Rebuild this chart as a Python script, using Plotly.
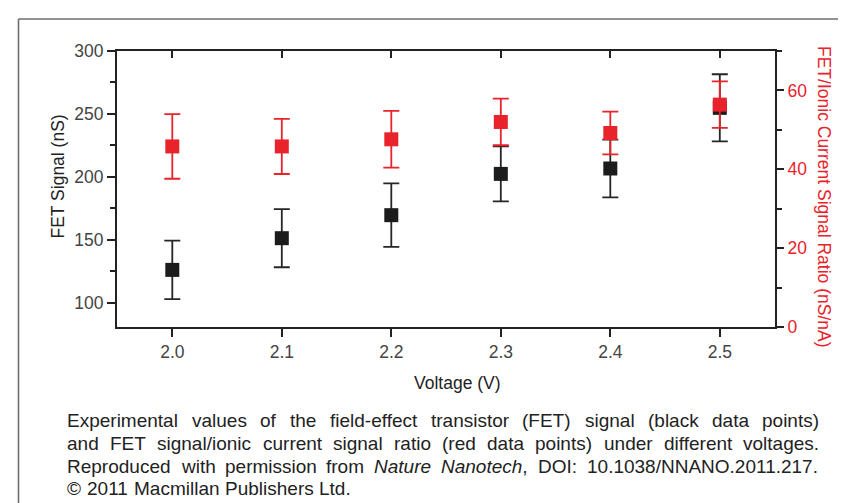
import plotly.graph_objects as go

# ---- data ----
voltage = [2.0, 2.1, 2.2, 2.3, 2.4, 2.5]
voltage_labels = ["2.0", "2.1", "2.2", "2.3", "2.4", "2.5"]
fet_signal = [126.0, 151.2, 169.5, 202.3, 206.6, 254.8]
fet_err = [23.3, 23.1, 25.2, 21.9, 23.0, 26.7]
ratio = [45.8, 45.8, 47.6, 52.0, 49.2, 56.4]
ratio_err = [8.2, 7.0, 7.2, 5.9, 5.4, 5.9]
left_ticks = [100, 150, 200, 250, 300]
right_ticks = [0, 20, 40, 60]

caption_lines = [
    "Experimental values of the field-effect transistor (FET) signal (black data points)",
    "and FET signal/ionic current signal ratio (red data points) under different voltages.",
    "Reproduced with permission from <i>Nature</i> <i>Nanotech</i>, DOI: 10.1038/NNANO.2011.217.",
    "\u00a9 2011 Macmillan Publishers Ltd.",
]

# ---- style ----
W, H = 846, 503
ML, MR, MT, MB = 109, 79, 43, 184
PW, PH = W - ML - MR, H - MT - MB
RED = "#e8232b"
BLK = "#1c1c1c"
AX = "#222222"
TICKC = "#444444"
FONT = "Liberation Sans, Arial, sans-serif"


def px(x):
    return (x - ML) / PW


def py(y):
    return (H - MB - y) / PH


fig = go.Figure()
fig.add_trace(go.Scatter(
    x=voltage, y=fet_signal, mode="markers",
    marker=dict(symbol="square", size=14, color=BLK, line=dict(width=0)),
    error_y=dict(type="data", array=fet_err, visible=True, color="#262626",
                 thickness=1.8, width=8),
    showlegend=False, xaxis="x", yaxis="y"))
fig.add_trace(go.Scatter(
    x=voltage, y=ratio, mode="markers",
    marker=dict(symbol="square", size=14, color=RED, line=dict(width=0)),
    error_y=dict(type="data", array=ratio_err, visible=True, color=RED,
                 thickness=1.8, width=8),
    showlegend=False, xaxis="x", yaxis="y2"))
# invisible helper trace so that the top (mirror) axis is drawn
fig.add_trace(go.Scatter(x=voltage, y=fet_signal, mode="markers",
                         marker=dict(opacity=0), hoverinfo="skip",
                         showlegend=False, xaxis="x2", yaxis="y"))

xr = [1.9495, 2.5504]
fig.update_layout(
    width=W, height=H,
    margin=dict(l=ML, r=MR, t=MT, b=MB, pad=0),
    paper_bgcolor="white", plot_bgcolor="white",
    font=dict(family=FONT, color=AX),
    xaxis=dict(range=xr, tickvals=voltage, ticktext=voltage_labels,
               ticks="outside", ticklen=8, tickwidth=1.6, tickcolor=AX,
               showline=True, linewidth=2, linecolor=AX, showgrid=False,
               zeroline=False, tickfont=dict(size=17.5, color=TICKC),
               anchor="y"),
    xaxis2=dict(range=xr, overlaying="x", side="top", tickvals=voltage,
                ticks="inside", ticklen=7, tickwidth=1.6, tickcolor=AX,
                showticklabels=False, showline=True, linewidth=2,
                linecolor=AX, showgrid=False, zeroline=False, anchor="y"),
    yaxis=dict(range=[80.6, 300], tickvals=left_ticks, ticks="outside",
               ticklen=8, tickwidth=1.6, tickcolor=AX,
               minor=dict(dtick=25, tick0=0, ticks="outside", ticklen=5,
                          tickwidth=1.6, tickcolor=AX, showgrid=False),
               showline=True, linewidth=2, linecolor=AX, showgrid=False,
               zeroline=False, tickfont=dict(size=17.5, color=TICKC)),
    yaxis2=dict(range=[0, 70], overlaying="y", side="right",
                tickvals=right_ticks, ticks="outside", ticklen=7,
                tickwidth=1.6, tickcolor=AX,
                minor=dict(dtick=10, tick0=0, ticks="outside", ticklen=5,
                           tickwidth=1.6, tickcolor=AX, showgrid=False),
                showline=True, linewidth=2, linecolor=AX, showgrid=False,
                zeroline=False, tickfont=dict(size=17.5, color=RED)),
)

ann = []
ann.append(dict(text="FET Signal (nS)", textangle=-90, x=px(49), y=py(168.5),
                xref="paper", yref="paper", showarrow=False,
                xanchor="center", yanchor="middle",
                font=dict(size=17.5, color=AX, family=FONT)))
ann.append(dict(text="FET/Ionic Current Signal Ratio (nS/nA)", textangle=90,
                x=px(816), y=py(189), xref="paper", yref="paper",
                showarrow=False, xanchor="center", yanchor="middle",
                font=dict(size=17.5, color=RED, family=FONT)))
ann.append(dict(text="Voltage (V)", x=px(449), y=py(375), xref="paper",
                yref="paper", showarrow=False, xanchor="center",
                yanchor="middle", font=dict(size=17.5, color=AX, family=FONT)))

# ---- caption, justified word by word (Arial/Liberation Sans metrics) ----
widths = {' ': 278, '(': 333, ')': 333, ',': 278, '-': 333, '.': 278,
          '/': 278, ':': 278, '\u00a9': 737}
for d in "0123456789":
    widths[d] = 556
widths.update(dict(A=667, B=667, C=722, D=722, E=667, F=611, G=778, H=722,
                   I=278, J=500, K=667, L=556, M=833, N=722, O=778, P=667,
                   Q=778, R=722, S=667, T=611, U=722, V=667, W=944, X=667,
                   Y=667, Z=611))
widths.update(dict(a=556, b=556, c=500, d=556, e=556, f=278, g=556, h=556,
                   i=222, j=222, k=500, l=222, m=833, n=556, o=556, p=556,
                   q=556, r=333, s=500, t=278, u=556, v=500, w=722, x=500,
                   y=500, z=500))


def tw(s, size):
    s = s.replace("<i>", "").replace("</i>", "")
    return sum(widths.get(ch, 556) for ch in s) * size / 1000.0


CAP_SIZE = 19
CAP_LEFT, CAP_RIGHT = 58.3, 810.5
cap_y = [412.5, 435.3, 458.1, 480.9]
for li, line in enumerate(caption_lines):
    words = line.split(" ")
    wsum = sum(tw(w, CAP_SIZE) for w in words)
    gaps = len(words) - 1
    if li < 3:
        gap = (CAP_RIGHT - CAP_LEFT - wsum) / gaps
    else:
        gap = tw(" ", CAP_SIZE)
    xcur = CAP_LEFT
    for w in words:
        ann.append(dict(text=w, x=px(xcur - 1), y=py(cap_y[li]),
                        xref="paper", yref="paper", showarrow=False,
                        xanchor="left", yanchor="middle",
                        font=dict(size=CAP_SIZE, color="#222222",
                                  family=FONT)))
        xcur += tw(w, CAP_SIZE) + gap
fig.update_layout(annotations=ann)

# ---- outer frame (left and top edges visible) ----
fig.add_shape(type="line", xref="paper", yref="paper", x0=px(10.5),
              x1=px(860), y0=py(11), y1=py(11),
              line=dict(color="#6e6e6e", width=1.6))
fig.add_shape(type="line", xref="paper", yref="paper", x0=px(10.5),
              x1=px(10.5), y0=py(11), y1=py(520),
              line=dict(color="#6e6e6e", width=1.6))

fig.write_html("out.html")
